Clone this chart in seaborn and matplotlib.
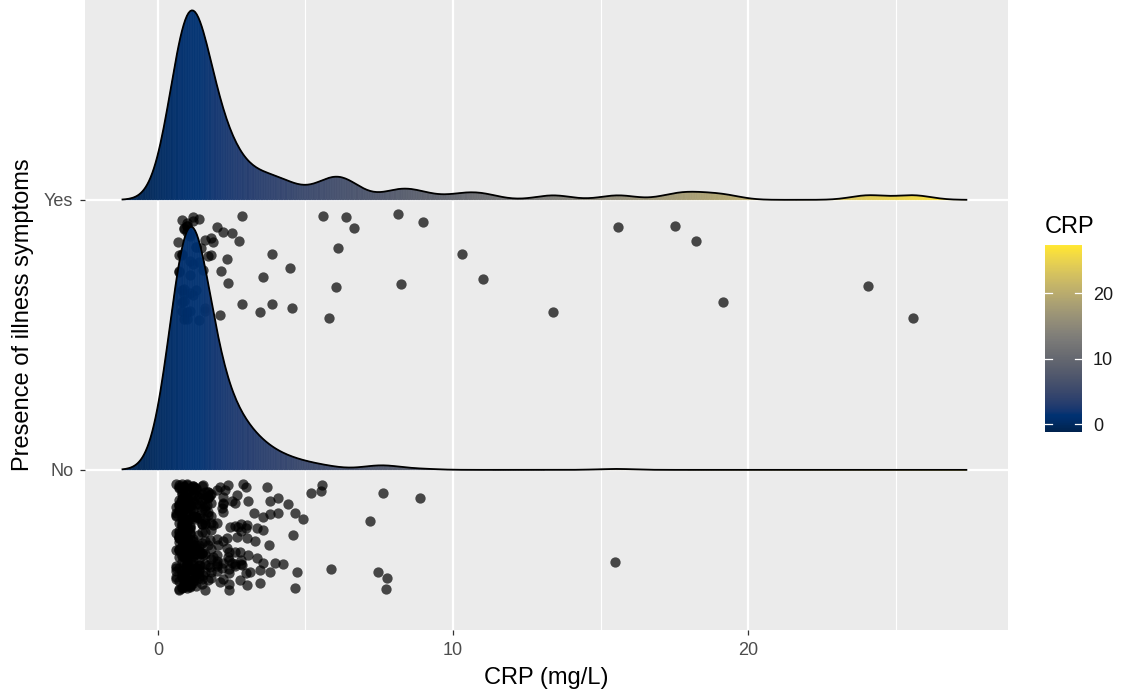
import numpy as np
import pandas as pd
import matplotlib
matplotlib.use("Agg")
import matplotlib.pyplot as plt
import seaborn as sns
from matplotlib.colors import Normalize
from matplotlib.collections import PolyCollection
from matplotlib.cm import ScalarMappable

# ---------------- data ----------------
groups = ["No", "Yes"]
group_pos = {"No": 1, "Yes": 2}

# Yes group: individually visible points (CRP, vertical jitter below the ridge baseline)
yes_crp = [0.81, 0.68, 2.85, 2.20, 2.51, 2.75, 1.86, 1.46, 1.69, 2.34,
           3.86, 2.14, 1.53, 4.47, 3.56, 2.37, 2.85, 3.86, 3.46, 4.54,
           2.10, 5.59, 6.37, 6.64, 6.10, 6.03, 5.80, 8.14, 8.98, 8.24,
           10.31, 11.02, 13.39, 15.59, 17.53, 18.24, 19.15, 24.07, 25.59]
yes_jit = [0.074, 0.156, 0.059, 0.119, 0.122, 0.152, 0.156, 0.178, 0.207, 0.219,
           0.200, 0.263, 0.259, 0.252, 0.285, 0.307, 0.385, 0.385, 0.415, 0.400,
           0.426, 0.059, 0.063, 0.104, 0.178, 0.322, 0.437, 0.052, 0.081, 0.311,
           0.200, 0.293, 0.415, 0.100, 0.096, 0.152, 0.378, 0.319, 0.437]
# Yes group: dense cluster mostly hidden behind the "No" ridge (value, count)
yes_cluster_vals = [0.7, 0.8, 0.9, 1.0, 1.1, 1.2, 1.3, 1.4, 1.6, 1.8, 2.0]
yes_cluster_counts = [3, 5, 6, 6, 6, 4, 3, 3, 3, 2, 1]

# No group: individually visible points
no_crp = [1.54, 2.10, 2.38, 2.87, 3.71, 1.76, 2.27, 2.69, 3.04, 2.50,
          2.16, 3.80, 4.08, 4.42, 3.27, 3.57, 3.80, 4.08, 4.64, 4.93,
          2.44, 2.72, 3.01, 3.35, 3.57, 2.33, 2.67, 3.01, 3.29, 3.77,
          4.59, 1.76, 2.04, 2.33, 1.54, 1.88, 2.38, 2.78, 3.06, 3.35,
          3.57, 3.97, 4.25, 1.76, 2.16, 2.50, 2.84, 3.12, 3.46, 3.80,
          4.70, 1.54, 2.10, 2.78, 3.01, 3.46, 1.59, 4.64, 1.42, 1.65,
          1.88, 1.37, 1.42,
          5.19, 5.56, 5.53, 7.63, 8.88, 7.19, 5.86, 7.46, 7.76, 7.73, 15.49]
no_jit = [0.056, 0.062, 0.056, 0.053, 0.065, 0.093, 0.074, 0.093, 0.117, 0.117,
          0.142, 0.117, 0.105, 0.127, 0.160, 0.173, 0.164, 0.160, 0.160, 0.181,
          0.210, 0.210, 0.204, 0.216, 0.222, 0.253, 0.247, 0.253, 0.265, 0.278,
          0.241, 0.259, 0.278, 0.290, 0.315, 0.321, 0.321, 0.305, 0.315, 0.327,
          0.346, 0.346, 0.349, 0.358, 0.364, 0.346, 0.352, 0.377, 0.370, 0.377,
          0.377, 0.389, 0.414, 0.407, 0.426, 0.420, 0.444, 0.438, 0.167, 0.130,
          0.204, 0.241, 0.352,
          0.085, 0.056, 0.078, 0.085, 0.104, 0.189, 0.367, 0.378, 0.400, 0.441, 0.341]
# No group: dense cluster (value, count)
no_cluster_vals = [0.6, 0.7, 0.8, 0.9, 1.0, 1.1, 1.2, 1.3, 1.4, 1.5,
                   1.6, 1.7, 1.8, 2.0, 2.2, 2.4, 2.6, 2.8, 3.0]
no_cluster_counts = [12, 25, 35, 38, 36, 30, 24, 18, 15, 13,
                     12, 10, 9, 8, 7, 6, 5, 4, 3]

x_ticks = [0, 10, 20]
cbar_ticks = [0, 10, 20]

# ---------------- build long table ----------------
rng = np.random.default_rng(7)  # jitter positions only (like geom_jitter)

def build(group, crp, jit, cvals, ccounts):
    c_crp = np.repeat(cvals, ccounts)
    c_jit = rng.uniform(0.05, 0.445, size=c_crp.size)
    x = np.concatenate([np.asarray(crp, float), c_crp])
    j = np.concatenate([np.asarray(jit, float), c_jit])
    return pd.DataFrame({"group": group, "CRP": x,
                         "ypos": group_pos[group] - j})

df = pd.concat([build("No", no_crp, no_jit, no_cluster_vals, no_cluster_counts),
                build("Yes", yes_crp, yes_jit, yes_cluster_vals, yes_cluster_counts)],
               ignore_index=True)

# ---------------- densities (joint bandwidth) ----------------
bw = 0.6
lo, hi = df["CRP"].min() - 3 * bw, df["CRP"].max() + 3 * bw
grid = np.linspace(lo, hi, 512)

def kde(v):
    v = np.asarray(v)
    z = (grid[:, None] - v[None, :]) / bw
    return np.exp(-0.5 * z ** 2).sum(axis=1) / (v.size * bw * np.sqrt(2 * np.pi))

dens = {g: kde(df.loc[df.group == g, "CRP"]) for g in groups}
gmax = max(d.max() for d in dens.values())
ridge_scale = 0.9

# ---------------- styling ----------------
plt.rcParams["font.family"] = ["Liberation Sans", "DejaVu Sans"]
fig = plt.figure(figsize=(11.22, 6.92), dpi=100)
ax = fig.add_axes([85 / 1122, 1 - 630 / 692, 923 / 1122, 630 / 692])
ax.set_facecolor("#EBEBEB")
for s in ax.spines.values():
    s.set_visible(False)

cmap = plt.get_cmap("cividis")
norm = Normalize(vmin=lo, vmax=hi)

# grid lines
for v in [5, 15, 25]:
    ax.axvline(v, color="white", lw=0.8, zorder=0.5)
for v in x_ticks:
    ax.axvline(v, color="white", lw=1.6, zorder=0.6)
for g in groups:
    ax.axhline(group_pos[g], color="white", lw=1.6, zorder=0.6)

# jittered points (beneath the ridges)
sns.scatterplot(data=df, x="CRP", y="ypos", color="black", alpha=0.7,
                s=55, linewidth=0, ax=ax, zorder=2, legend=False)

# ridges with gradient fill; lower ridge drawn on top
for zi, g in enumerate(["Yes", "No"]):
    base = group_pos[g]
    h = dens[g] / gmax * ridge_scale
    verts = [[(grid[i], base), (grid[i], base + h[i]),
              (grid[i + 1], base + h[i + 1]), (grid[i + 1], base)]
             for i in range(len(grid) - 1)]
    mids = (grid[:-1] + grid[1:]) / 2
    cols = cmap(norm(mids))
    pc = PolyCollection(verts, facecolors=cols, edgecolors=cols,
                        linewidths=0.4, alpha=0.96, zorder=3 + 2 * zi)
    ax.add_collection(pc)
    sns.lineplot(x=grid, y=base + h, color="black", lw=1.3, ax=ax,
                 zorder=4 + 2 * zi, sort=False, estimator=None)

ax.set_xlim(-2.47, 28.8)
ax.set_ylim(0.407, 2.74)
ax.set_xticks(x_ticks)
ax.set_xticklabels([str(t) for t in x_ticks])
ax.set_yticks([group_pos[g] for g in groups])
ax.set_yticklabels(groups)
ax.tick_params(axis="both", colors="#333333", length=3.5, width=0.9,
               labelsize=13, labelcolor="#4D4D4D", pad=5)
ax.set_xlabel("CRP (mg/L)", fontsize=17, color="black")
ax.set_ylabel("Presence of illness symptoms", fontsize=17, color="black")
ax.xaxis.set_label_coords(0.5, -0.058)
ax.yaxis.set_label_coords(-0.055, 0.5)

# colour bar legend
cax = fig.add_axes([1045 / 1122, 1 - 432 / 692, 37 / 1122, 187 / 692])
cb = fig.colorbar(ScalarMappable(norm=norm, cmap=cmap), cax=cax)
cb.outline.set_visible(False)
cb.set_ticks(cbar_ticks)
cax.tick_params(length=0, labelsize=13, labelcolor="#1A1A1A", pad=8)
for v in cbar_ticks:
    cax.axhline(v, xmin=0, xmax=0.2, color="white", lw=0.9)
    cax.axhline(v, xmin=0.8, xmax=1, color="white", lw=0.9)
fig.text(1045 / 1122, 1 - 233 / 692, "CRP", fontsize=17, ha="left",
         va="baseline", color="black")

fig.savefig("out.png", dpi=100)
